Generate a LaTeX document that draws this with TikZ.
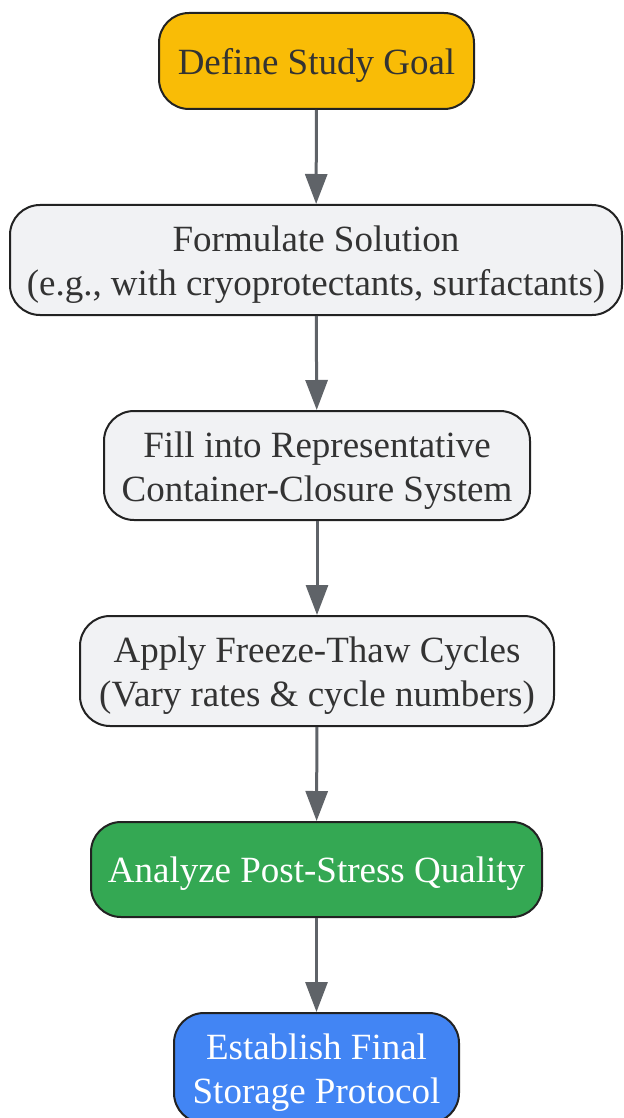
\documentclass[tikz,border=0pt]{standalone}
\usepackage{fontspec}
\setmainfont{Liberation Serif}
\usetikzlibrary{arrows.meta}
\definecolor{goalY}{HTML}{F9BC06}
\definecolor{stepG}{HTML}{F1F2F4}
\definecolor{anaG}{HTML}{34A853}
\definecolor{estB}{HTML}{4285F4}
\definecolor{edgeC}{HTML}{222222}
\definecolor{arrC}{HTML}{5F6368}
\definecolor{txtC}{HTML}{333333}
\tikzset{
  box/.style={draw=edgeC, line width=1pt, rounded corners=15pt, inner sep=0pt},
  boxtext/.style={align=center, inner sep=0pt, font=\fontsize{18.5}{22}\selectfont, text=txtC},
  flowarrow/.style={draw=arrC, line width=1.5pt, -{Triangle[length=15pt,width=11pt]}}
}
\begin{document}
\begin{tikzpicture}[x=0.5pt,y=-0.5pt]
\useasboundingbox (0,0) rectangle (623,1118);
\clip (0,0) rectangle (623,1118);
\node[box, fill=goalY, minimum width=157.5pt, minimum height=48pt] (n1) at (316.5,61) {};
\node[box, fill=stepG, minimum width=306pt, minimum height=55pt] (n2) at (316,260) {};
\node[box, fill=stepG, minimum width=213pt, minimum height=54.5pt] (n3) at (317,465.5) {};
\node[box, fill=stepG, minimum width=237pt, minimum height=55pt] (n4) at (317,671) {};
\node[box, fill=anaG, minimum width=225.5pt, minimum height=47.5pt] (n5) at (316.5,869.5) {};
\node[box, fill=estB, minimum width=142.5pt, minimum height=55pt] (n6) at (316.5,1068) {};
\node[boxtext] (t1) at ([yshift=-2.2pt]n1.center) {Define Study Goal};
\node[boxtext] (t2) at ([yshift=-2.5pt]n2.center) {Formulate Solution\\(e.g., with cryoprotectants, surfactants)};
\node[boxtext] (t3) at ([yshift=-2.5pt]n3.center) {Fill into Representative\\Container-Closure System};
\node[boxtext] (t4) at ([yshift=-2.5pt]n4.center) {Apply Freeze-Thaw Cycles\\(Vary rates \& cycle numbers)};
\node[boxtext, text=white] (t5) at ([yshift=-2.2pt]n5.center) {Analyze Post-Stress Quality};
\node[boxtext, text=white] (t6) at ([yshift=-2.5pt]n6.center) {Establish Final\\Storage Protocol};
\draw[flowarrow] (n1) -- (n2);
\draw[flowarrow] (n2) -- (n3);
\draw[flowarrow] (n3) -- (n4);
\draw[flowarrow] (n4) -- (n5);
\draw[flowarrow] (n5) -- (n6);
\end{tikzpicture}
\end{document}
